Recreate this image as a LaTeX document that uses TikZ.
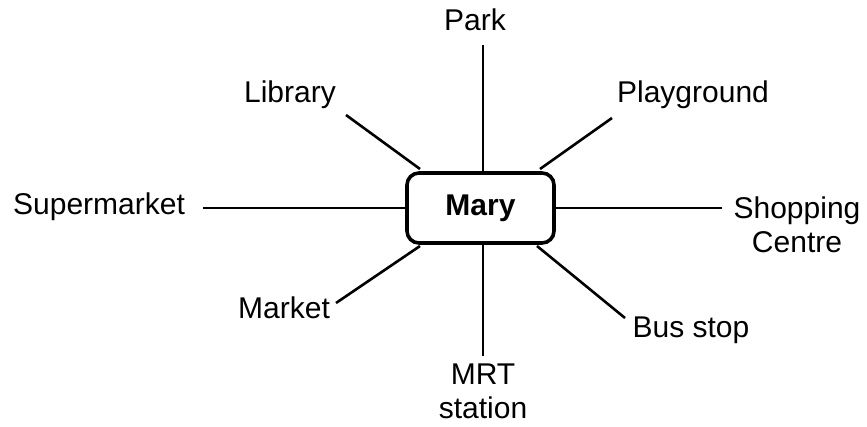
\documentclass[tikz,border=0pt]{standalone}
\usepackage{fontspec}
\setmainfont{Liberation Sans}
\begin{document}
\begin{tikzpicture}[x=1pt,y=-1pt,
  lbl/.style={inner sep=0pt,font=\fontsize{30}{34}\selectfont,align=center},
  conn/.style={line width=2.6pt},
  hub/.style={draw,line width=3.6pt,rounded corners=12pt,minimum width=147pt,minimum height=70pt,inner sep=0pt,font=\bfseries\fontsize{30}{35}\selectfont}]
\useasboundingbox (0,0) rectangle (867,426);
\node[hub] (mary) at (480.5,208) {Mary};
\node[lbl] (park) at (475,20) {Park};
\node[lbl] (library) at (290,95) {Library};
\node[lbl] (playground) at (693,95) {Playground};
\node[lbl] (super) at (99,207) {Supermarket};
\node[lbl] (shop) at (797,225) {Shopping\\Centre};
\node[lbl] (market) at (284,308) {Market};
\node[lbl] (bus) at (691,330) {Bus stop};
\node[lbl] (mrt) at (483,391) {MRT\\station};
\coordinate (cPark) at (483,45);
\coordinate (cLib) at (346,115);
\coordinate (cPlay) at (612,118);
\coordinate (cSup) at (203,208);
\coordinate (cShop) at (722,208);
\coordinate (cMar) at (336,303);
\coordinate (cBus) at (625,318);
\coordinate (cMrt) at (483,356);
\coordinate (mPark) at (483,173);
\coordinate (mLib) at (420,169);
\coordinate (mPlay) at (540,169);
\coordinate (mSup) at (407,208);
\coordinate (mShop) at (554,208);
\coordinate (mMar) at (420,246);
\coordinate (mBus) at (537,246);
\coordinate (mMrt) at (483,243);
\draw[conn] (cPark) -- (mPark);
\draw[conn] (cLib) -- (mLib);
\draw[conn] (cPlay) -- (mPlay);
\draw[conn] (cSup) -- (mSup);
\draw[conn] (cShop) -- (mShop);
\draw[conn] (cMar) -- (mMar);
\draw[conn] (cBus) -- (mBus);
\draw[conn] (cMrt) -- (mMrt);
\end{tikzpicture}
\end{document}
